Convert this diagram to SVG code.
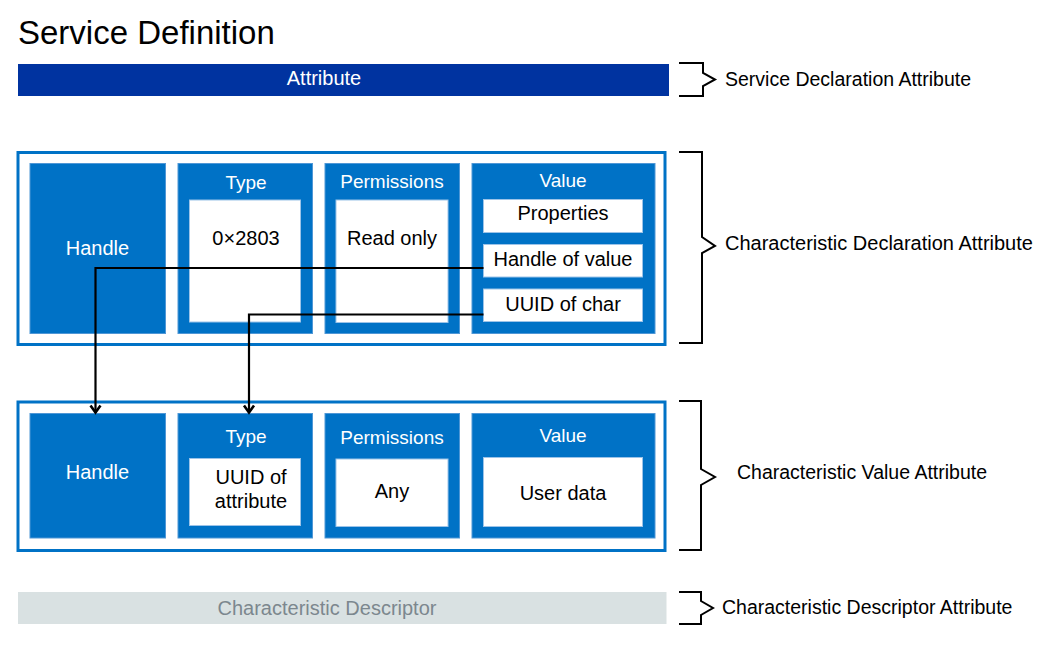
<svg xmlns="http://www.w3.org/2000/svg" width="1058" height="656" viewBox="0 0 1058 656">
<style>
text{font-family:"Liberation Sans",Arial,sans-serif;}
.title{font-size:33px;fill:#000;}
.side{font-size:19.5px;fill:#000;}
.bar{fill:#0033A0;}
.barText{font-size:20px;fill:#fff;text-anchor:middle;}
.frame{fill:#fff;stroke:#0072C6;stroke-width:3;}
.cell{fill:#0072C6;stroke:#4F97D6;stroke-width:1;}
.box{fill:#fff;stroke:#9CC3E8;stroke-width:1;}
.hdr{font-size:19px;fill:#fff;text-anchor:middle;}
.lbl{font-size:20px;fill:#fff;text-anchor:middle;}
.txt{font-size:20px;fill:#000;text-anchor:middle;}
.brace{fill:none;stroke:#000;stroke-width:2;}
.desc{fill:#D9E1E2;}
.descText{font-size:20px;fill:#7C878E;text-anchor:middle;}
.conn{fill:none;stroke:#000;stroke-width:2.2;}
</style>
<defs>
<marker id="arrow" markerUnits="userSpaceOnUse" markerWidth="14" markerHeight="14" viewBox="0 0 14 14" refX="12" refY="7" orient="auto">
<path d="M5,2 L12,7 L5,12" fill="none" stroke="#000" stroke-width="2.6"/>
</marker>
</defs>
<rect width="1058" height="656" fill="#fff"/>
<text class="title" x="18" y="44">Service Definition</text>

<g id="service-declaration">
<rect class="bar" x="18" y="64" width="651" height="32"/>
<text class="barText" x="324" y="85">Attribute</text>
<path class="brace" d="M679,63 H703 V73 L715,79.5 L703,86 V96 H679"/>
<text class="side" x="725" y="86">Service Declaration Attribute</text>
</g>

<g id="characteristic-declaration">
<rect class="frame" x="18" y="152.5" width="647" height="192"/>
<g id="cd-handle">
<rect class="cell" x="30" y="163.5" width="135.5" height="170"/>
<text class="lbl" x="97.5" y="255">Handle</text>
</g>
<g id="cd-type">
<rect class="cell" x="178" y="163.5" width="134.5" height="170"/>
<text class="hdr" x="246" y="189">Type</text>
<rect class="box" x="189.5" y="200" width="111" height="122"/>
<text class="txt" x="246" y="245">0×2803</text>
</g>
<g id="cd-permissions">
<rect class="cell" x="325" y="163.5" width="134.5" height="170"/>
<text class="hdr" x="392" y="188">Permissions</text>
<rect class="box" x="336" y="200" width="112" height="122.5"/>
<text class="txt" x="392" y="245">Read only</text>
</g>
<g id="cd-value">
<rect class="cell" x="472" y="163.5" width="183" height="170"/>
<text class="hdr" x="563" y="187">Value</text>
<rect class="box" x="483.5" y="199.5" width="159" height="33"/>
<text class="txt" x="563" y="220">Properties</text>
<rect class="box" x="483.5" y="244.5" width="159" height="32.5"/>
<text class="txt" x="563" y="266">Handle of value</text>
<rect class="box" x="483.5" y="289" width="159" height="32.5"/>
<text class="txt" x="563" y="311">UUID of char</text>
</g>
<path class="brace" d="M679,152 H702 V237 L715,246 L702,253 V343 H679"/>
<text class="side" x="725" y="250" style="font-size:20px">Characteristic Declaration Attribute</text>
</g>

<g id="characteristic-value">
<rect class="frame" x="18" y="402" width="647" height="148.5"/>
<g id="cv-handle">
<rect class="cell" x="30" y="413.5" width="135.5" height="124.5"/>
<text class="lbl" x="97.5" y="479">Handle</text>
</g>
<g id="cv-type">
<rect class="cell" x="178" y="413.5" width="134.5" height="124.5"/>
<text class="hdr" x="246" y="443">Type</text>
<rect class="box" x="189.5" y="458.5" width="111" height="67"/>
<text class="txt" x="251" y="484">UUID of</text>
<text class="txt" x="251" y="508">attribute</text>
</g>
<g id="cv-permissions">
<rect class="cell" x="325" y="413.5" width="134.5" height="124.5"/>
<text class="hdr" x="392" y="444">Permissions</text>
<rect class="box" x="336" y="459" width="112" height="67.5"/>
<text class="txt" x="392" y="498">Any</text>
</g>
<g id="cv-value">
<rect class="cell" x="472" y="413.5" width="183" height="124.5"/>
<text class="hdr" x="563" y="442">Value</text>
<rect class="box" x="483.5" y="457.5" width="159" height="69"/>
<text class="txt" x="563" y="500">User data</text>
</g>
<path class="brace" d="M679,401 H701 V469 L715,477 L701,485 V550 H679"/>
<text class="side" x="737" y="479">Characteristic Value Attribute</text>
</g>

<g id="characteristic-descriptor">
<rect class="desc" x="18" y="592" width="648.5" height="32"/>
<text class="descText" x="327" y="615">Characteristic Descriptor</text>
<path class="brace" d="M679,592 H701 V601 L713,608 L701,615 V624 H679"/>
<text class="side" x="722" y="614">Characteristic Descriptor Attribute</text>
</g>

<g id="connectors">
<path class="conn" d="M483.5,268 H95.5 V412.5" marker-end="url(#arrow)"/>
<path class="conn" d="M483.5,314.5 H249 V412.5" marker-end="url(#arrow)"/>
</g>
</svg>
